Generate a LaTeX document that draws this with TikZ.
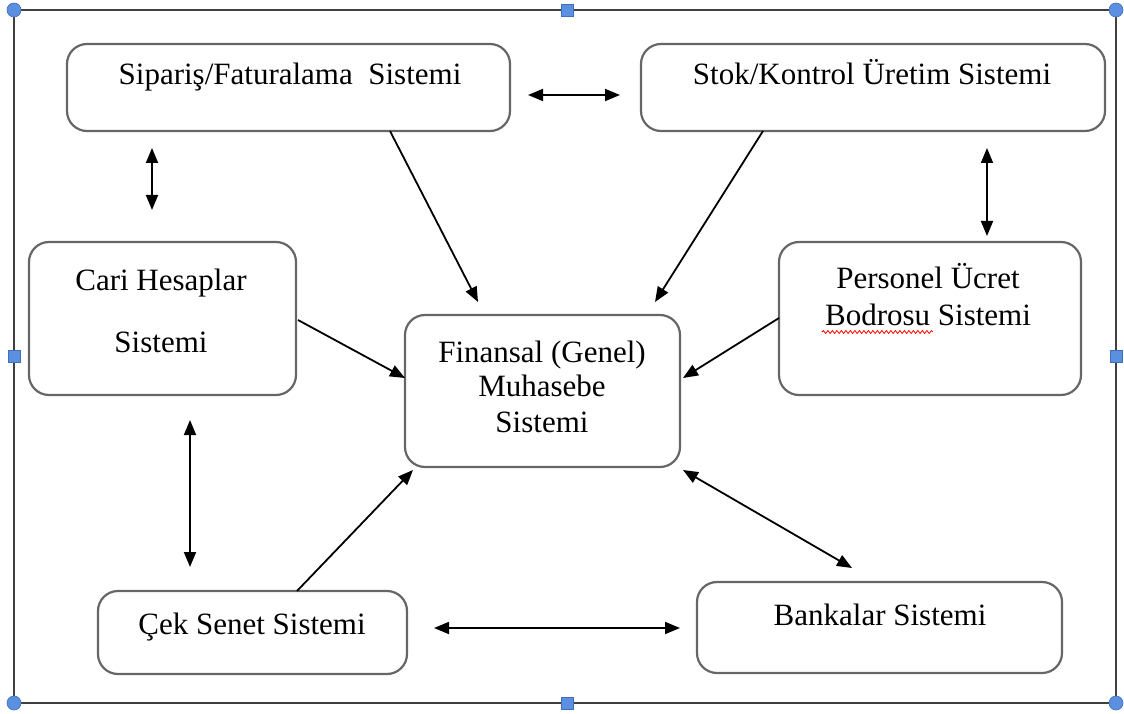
\documentclass[tikz,border=0pt]{standalone}
\usepackage{fontspec}
\setmainfont{Liberation Serif}
\usetikzlibrary{arrows.meta,decorations.pathmorphing}
\definecolor{handlefill}{HTML}{5B8FDF}
\definecolor{handleedge}{HTML}{3F6FBA}
\definecolor{framecol}{HTML}{404040}
\definecolor{boxcol}{HTML}{666666}
\begin{document}
\begin{tikzpicture}[x=1pt,y=-1pt,
  sysbox/.style={draw=boxcol, line width=2.2pt, rounded corners=20pt, inner sep=0pt},
  label/.style={anchor=base, inner sep=0pt, font=\fontsize{31}{36}\selectfont},
  link/.style={line width=1.8pt, -{Triangle[length=15pt,width=12pt]}},
  twoway/.style={line width=1.8pt, {Triangle[length=15pt,width=12pt]}-{Triangle[length=15pt,width=12pt]}},
  cornerhandle/.style={circle, fill=handlefill, draw=handleedge, line width=0.6pt, minimum size=14pt, inner sep=0pt},
  sidehandle/.style={rectangle, fill=handlefill, draw=handleedge, line width=0.6pt, minimum size=12pt, inner sep=0pt}]
\useasboundingbox (0,0) rectangle (1124,714);

% selection frame
\draw[framecol, line width=2.4pt] (14,10) rectangle (1116,703);

% system boxes
\node[sysbox, minimum width=443pt, minimum height=87pt]  (sip) at (288.5,87.5) {};
\node[sysbox, minimum width=464pt, minimum height=87pt]  (stk) at (873,87.5) {};
\node[sysbox, minimum width=267pt, minimum height=153pt] (cari) at (162.5,318.5) {};
\node[sysbox, minimum width=275pt, minimum height=152pt] (fin) at (542.5,391) {};
\node[sysbox, minimum width=302pt, minimum height=153pt] (per) at (930,318.5) {};
\node[sysbox, minimum width=309pt, minimum height=83pt]  (cek) at (252.5,632.5) {};
\node[sysbox, minimum width=365pt, minimum height=91pt]  (bnk) at (879.5,627.5) {};

% box texts
\node[label] (tsip) at (290,85) {Sipariş/Faturalama\ \ Sistemi};
\node[label] (tstk) at (872,85) {Stok/Kontrol Üretim Sistemi};
\node[label] (tcari1) at (161,290) {Cari Hesaplar};
\node[label] (tcari2) at (161,352) {Sistemi};
\node[label] (tfin1) at (542,362) {Finansal (Genel)};
\node[label] (tfin2) at (542,396) {Muhasebe};
\node[label] (tfin3) at (542,432) {Sistemi};
\node[label] (tper1) at (928,288) {Personel Ücret};
\node[label] (tper2) at (928,325) {Bodrosu Sistemi};
\node[label] (tcek) at (252,634) {Çek Senet Sistemi};
\node[label] (tbnk) at (880,625) {Bankalar Sistemi};

% spell-check underline
\draw[red, line width=0.8pt, decorate, decoration={snake, amplitude=1.5pt, segment length=4.5pt}]
  (822,332) -- (933,332);

% connector end points
\coordinate (sipR) at (528,95);   \coordinate (stkL) at (620,95);
\coordinate (sipD) at (152,148);  \coordinate (cariU) at (152,210);
\coordinate (stkD) at (987,148);  \coordinate (perU) at (987,236);
\coordinate (cariD) at (190,420); \coordinate (cekU) at (190,567);
\coordinate (cekR) at (434,628);  \coordinate (bnkL) at (680,628);
\coordinate (finBR) at (683,470); \coordinate (bnkU) at (852,568);
\coordinate (sipF) at (390,131);  \coordinate (finA) at (478,302);
\coordinate (stkF) at (763,131);  \coordinate (finB) at (655,302);
\coordinate (cariF) at (298,320); \coordinate (finL) at (405,378);
\coordinate (perF) at (779,318);  \coordinate (finR) at (683,378);
\coordinate (cekF) at (297,591);  \coordinate (finD) at (413,470);

% two-way links between subsystems
\draw[twoway] (sipR) -- (stkL);
\draw[twoway] (sipD) -- (cariU);
\draw[twoway] (stkD) -- (perU);
\draw[twoway] (cariD) -- (cekU);
\draw[twoway] (cekR) -- (bnkL);
\draw[twoway] (finBR) -- (bnkU);

% flows into the general ledger
\draw[link] (sipF) -- (finA);
\draw[link] (stkF) -- (finB);
\draw[link] (cariF) -- (finL);
\draw[link] (perF) -- (finR);
\draw[link] (cekF) -- (finD);

% frame handles
\node[cornerhandle] (h1) at (14,10) {};
\node[cornerhandle] (h2) at (1116,10) {};
\node[cornerhandle] (h3) at (14,703) {};
\node[cornerhandle] (h4) at (1116,703) {};
\node[sidehandle] (h5) at (567,10) {};
\node[sidehandle] (h6) at (567,703) {};
\node[sidehandle] (h7) at (14,356) {};
\node[sidehandle] (h8) at (1116,356) {};
\end{tikzpicture}
\end{document}
